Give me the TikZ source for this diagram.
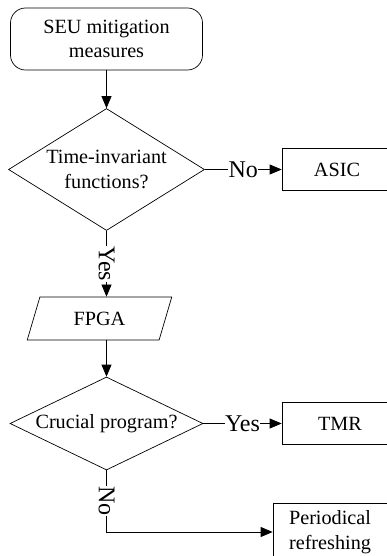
\documentclass[tikz,border=0pt]{standalone}
\usepackage{fontspec}
\setmainfont{Liberation Serif}
\usetikzlibrary{shapes.geometric,arrows.meta}
\tikzset{
	decision/.style={draw,diamond,inner sep=0pt,align=center},
	io/.style={draw,trapezium,trapezium left angle=73,trapezium right angle=107,
		trapezium stretches=true,minimum width=145pt,minimum height=43pt},
	outbox/.style={draw,rectangle,align=center},
	lbl/.style={fill=white,inner sep=.5pt,font=\fontsize{24}{28}\selectfont}
}
\begin{document}
\begin{tikzpicture}[x=1pt,y=-1pt,line width=.7pt,
	font=\fontsize{20.2}{24.5}\selectfont,>={Triangle[length=12pt,width=10pt]}]
\useasboundingbox (0,0) rectangle (386,556);
% Draw start
\node[draw,rounded corners=15pt,minimum width=192pt,minimum height=62pt,
	align=center] (seu) at (106.5,39) {SEU mitigation\\measures};
% Draw decisions
\node[decision,minimum width=196pt,minimum height=122pt,aspect=1.6]
	(timeinv) at (106.5,169.5) {Time-invariant\\functions?};
\node[decision,minimum width=193pt,minimum height=93pt,aspect=2.07]
	(crucial) at (106.5,423.5) {Crucial program?};
% Draw FPGA
\node[io] (fpga) at (99.5,318.5) {FPGA};
% Draw outcomes
\node[outbox,minimum width=110pt,minimum height=42pt] (asic) at (337,169.5) {ASIC};
\node[outbox,minimum width=116pt,minimum height=42pt] (tmr) at (340,423.5) {TMR};
\node[outbox,minimum width=114pt,minimum height=58pt] (refresh) at (330,532)
	{Periodical\\refreshing};
% Draw arrows
\draw[->] (seu) -- (timeinv);
\draw[->] (timeinv) -- node[lbl,rotate=-90] {Yes} (timeinv |- fpga.north);
\draw[->] (fpga.south -| crucial) -- (crucial);
\draw[->] (timeinv) -- node[lbl] {No} (asic);
\draw[->] (crucial) -- node[lbl] {Yes} (tmr);
\draw[->] (crucial) |- node[lbl,rotate=-90,pos=.25] {No} (refresh);
\end{tikzpicture}
\end{document}
